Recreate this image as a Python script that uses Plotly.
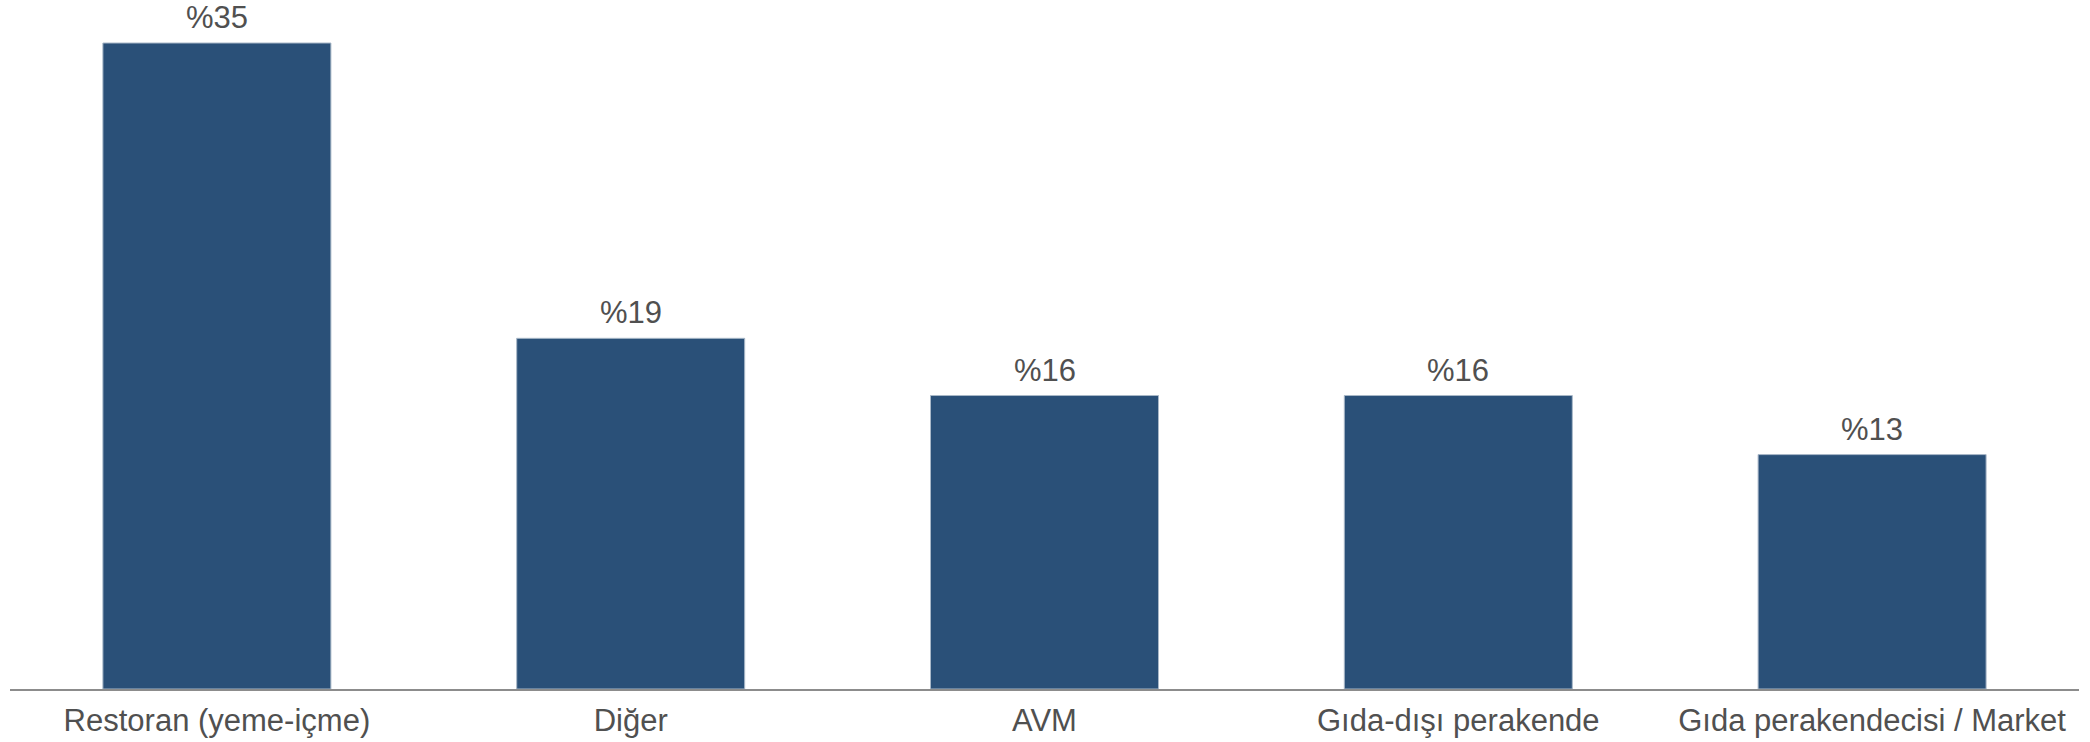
import plotly.graph_objects as go

categories = ["Restoran (yeme-içme)", "Diğer", "AVM", "Gıda-dışı perakende", "Gıda perakendecisi / Market"]
values = [35.0, 19.0, 15.9, 15.9, 12.7]
labels = ["%35", "%19", "%16", "%16", "%13"]

FONT = "Liberation Sans, Arial"
TXT = "#505050"

fig = go.Figure(go.Bar(
    x=categories,
    y=values,
    marker=dict(color="#2A5078", line=dict(color="#A9B8C8", width=1)),
    hoverinfo="skip",
))

for c, v, t in zip(categories, values, labels):
    fig.add_annotation(x=c, y=v, text=t, showarrow=False, yanchor="bottom",
                       yshift=6, font=dict(family=FONT, size=31, color=TXT))

fig.update_layout(
    width=2090, height=742,
    margin=dict(l=10, r=11, t=0, b=53),
    plot_bgcolor="white", paper_bgcolor="white",
    bargap=0.449,
    showlegend=False,
    font=dict(family=FONT, size=31, color=TXT),
)
fig.update_xaxes(showline=True, linecolor="#8C8C8C", linewidth=1.5, ticks="",
                 ticklabelstandoff=3,
                 tickfont=dict(family=FONT, size=31, color=TXT), showgrid=False)
fig.update_yaxes(range=[0, 37.33], visible=False, showgrid=False)

fig.write_html("out.html")
